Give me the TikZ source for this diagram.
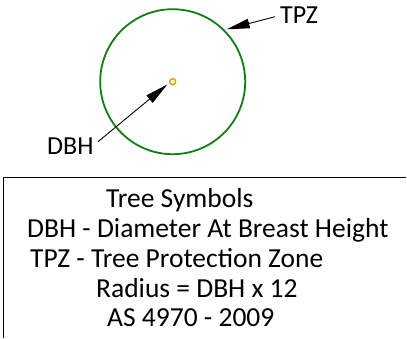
\documentclass[tikz,border=0pt]{standalone}
\usepackage{fontspec}
\setmainfont{Carlito}
\usetikzlibrary{arrows.meta}
\definecolor{zonegreen}{RGB}{16,128,16}
\definecolor{dbhorange}{RGB}{230,160,0}
\tikzset{
  lbl/.style={font=\fontsize{26}{30}\selectfont, inner sep=0pt, anchor=base west},
  boxtxt/.style={font=\fontsize{27.5}{30}\selectfont, inner sep=0pt, anchor=base west},
  ptr/.style={line width=0.9pt, -{Triangle[length=23pt,width=9.5pt]}},
}
\begin{document}
\begin{tikzpicture}[x=1pt,y=-1pt]
\useasboundingbox (0,0) rectangle (407,338);
% TPZ circle
\node[draw=zonegreen, line width=1.8pt, circle, minimum size=145pt, inner sep=0pt] (tpz) at (172.7,81.7) {};
\node[draw=dbhorange, line width=1.5pt, circle, minimum size=6pt, inner sep=0pt] (dbh) at (172.7,81.7) {};
% labels
\node[lbl] (tpzl) at (280,23.5) {TPZ};
\node[lbl] (dbhl) at (47,154.5) {DBH};
\coordinate (tpzs) at (275,16.7);
\coordinate (tpzt) at (226.7,29.3);
\coordinate (dbhs) at (98,141.7);
\coordinate (dbht) at (167.3,84.5);
\draw[ptr] (tpzs) -- (tpzt);
\draw[ptr] (dbhs) -- (dbht);
% legend box
\coordinate (bl) at (3.5,338);
\coordinate (tl) at (3.5,177.3);
\coordinate (tr) at (406,177.3);
\draw[line width=1.6pt] (bl) -- (tl) -- (tr);
\node[boxtxt] (l1) at (106,207.5) {Tree Symbols};
\node[boxtxt] (l2) at (27,237.5) {DBH - Diameter At Breast Height};
\node[boxtxt] (l3) at (30,267.5) {TPZ - Tree Protection Zone};
\node[boxtxt] (l4) at (96,297.5) {Radius = DBH x 12};
\node[boxtxt] (l5) at (107,326.5) {AS 4970 - 2009};
\end{tikzpicture}
\end{document}
